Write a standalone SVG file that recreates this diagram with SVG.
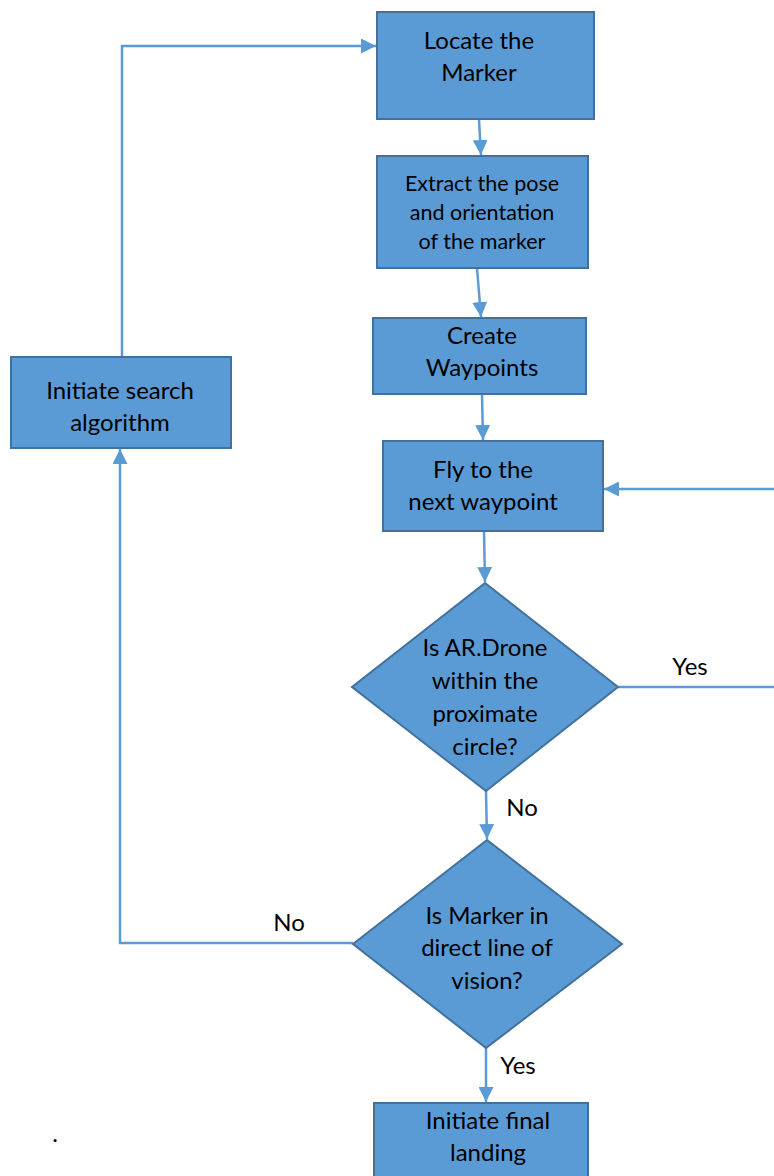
<svg xmlns="http://www.w3.org/2000/svg" width="774" height="1176" viewBox="0 0 774 1176">
<defs>
<style>
.box{fill:#5B9BD5;stroke:#41719C;stroke-width:2}
.t{font-family:Lato,"Liberation Sans",sans-serif;font-size:24px;fill:#000;text-anchor:middle}
.s{font-size:21.5px}
.c{fill:none;stroke:#5B9BD5;stroke-width:2.5}
</style>
<marker id="ah" viewBox="0 0 10 10" refX="10" refY="5" markerWidth="6" markerHeight="6" markerUnits="strokeWidth" orient="auto">
<path d="M0,0 L10,5 L0,10 z" fill="#5B9BD5"/>
</marker>
</defs>
<rect width="774" height="1176" fill="#fff"/>
<g id="connectors">
<path class="c" d="M479,120 L481,155" marker-end="url(#ah)"/>
<path class="c" d="M477,268 L481,317" marker-end="url(#ah)"/>
<path class="c" d="M482,394 L483,440" marker-end="url(#ah)"/>
<path class="c" d="M484,531 L485,582" marker-end="url(#ah)"/>
<path class="c" d="M618,687 L776,687"/>
<path class="c" d="M776,489 L604,489" marker-end="url(#ah)"/>
<path class="c" d="M486,791 L487,839" marker-end="url(#ah)"/>
<path class="c" d="M353,943 L120,943 L120,449" marker-end="url(#ah)"/>
<path class="c" d="M122,357 L122,46 L376,46" marker-end="url(#ah)"/>
<path class="c" d="M486,1048 L486,1102" marker-end="url(#ah)"/>
<text class="t" x="690" y="675">Yes</text>
<text class="t" x="522" y="816">No</text>
<text class="t" x="289" y="931">No</text>
<text class="t" x="518" y="1074">Yes</text>
</g>
<g id="locate"><rect class="box" x="377" y="12" width="217" height="107"/>
<text class="t" x="479" y="49">Locate the</text><text class="t" x="479" y="81">Marker</text></g>
<g id="extract"><rect class="box" x="377" y="156" width="211" height="112"/>
<text class="t s" x="482" y="191">Extract the pose</text><text class="t s" x="482" y="220">and orientation</text><text class="t s" x="482" y="249">of the marker</text></g>
<g id="create"><rect class="box" x="373" y="318" width="213" height="76"/>
<text class="t" x="482" y="344">Create</text><text class="t" x="482" y="376">Waypoints</text></g>
<g id="fly"><rect class="box" x="383" y="441" width="220" height="90"/>
<text class="t" x="483" y="478">Fly to the</text><text class="t" x="483" y="510">next waypoint</text></g>
<g id="within"><polygon class="box" points="485,583 618,687 486,791 352,687"/>
<text class="t" x="485" y="656">Is AR.Drone</text><text class="t" x="485" y="689">within the</text><text class="t" x="485" y="722">proximate</text><text class="t" x="485" y="755">circle?</text></g>
<g id="vision"><polygon class="box" points="487,840 622,944 486,1048 353,944"/>
<text class="t" x="487" y="924">Is Marker in</text><text class="t" x="487" y="956">direct line of</text><text class="t" x="487" y="989">vision?</text></g>
<g id="search"><rect class="box" x="11" y="357" width="220" height="91"/>
<text class="t" x="120" y="399">Initiate search</text><text class="t" x="120" y="431">algorithm</text></g>
<g id="landing"><rect class="box" x="374" y="1103" width="214" height="80"/>
<text class="t" x="488" y="1129">Initiate final</text><text class="t" x="488" y="1161">landing</text></g>
<text class="t" x="55" y="1142">.</text>
</svg>
